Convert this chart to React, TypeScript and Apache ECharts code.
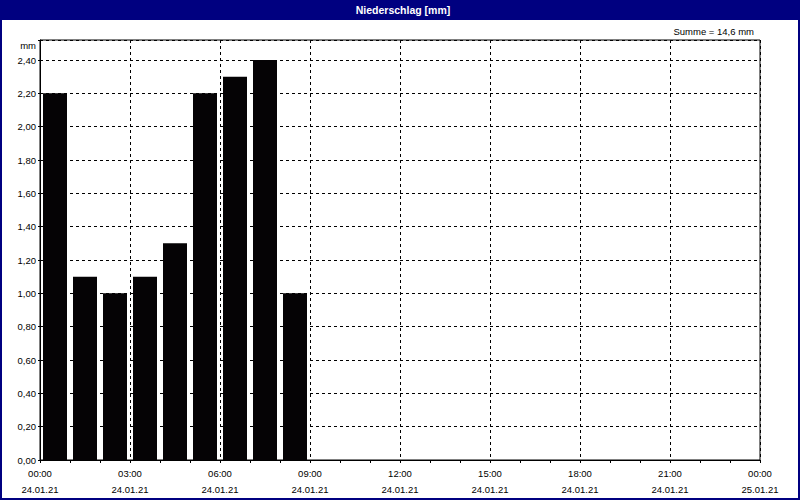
import React, { useEffect, useRef } from "react";
import * as echarts from "echarts";

const hours = [0, 1, 2, 3, 4, 5, 6, 7, 8];
const precip = [2.2, 1.1, 1.0, 1.1, 1.3, 2.2, 2.3, 2.4, 1.0];
const xTickLabels: Record<number, string> = {
  0: "00:00\n24.01.21",
  3: "03:00\n24.01.21",
  6: "06:00\n24.01.21",
  9: "09:00\n24.01.21",
  12: "12:00\n24.01.21",
  15: "15:00\n24.01.21",
  18: "18:00\n24.01.21",
  21: "21:00\n24.01.21",
  24: "00:00\n25.01.21",
};
const titleText = "Niederschlag [mm]";
const unitText = "mm";

const FONT = "Liberation Sans";

export default function App() {
  const ref = useRef<HTMLDivElement>(null);
  useEffect(() => {
    if (!ref.current) return;
    const chart = echarts.init(ref.current, undefined, { renderer: "svg" });
    const sum = precip.reduce((a, b) => a + b, 0);
    const sumText = "Summe = " + sum.toFixed(1).replace(".", ",") + " mm";
    chart.setOption({
      animation: false,
      backgroundColor: "#ffffff",
      textStyle: { fontFamily: FONT },
      grid: {
        left: 40,
        right: 40,
        top: 40,
        bottom: 40,
        show: true,
        borderColor: "#000",
        borderWidth: 1,
        backgroundColor: "transparent",
      },
      xAxis: {
        type: "value",
        min: 0,
        max: 24,
        interval: 3,
        axisLine: { show: true, lineStyle: { color: "#000", width: 1 } },
        axisTick: { show: true, length: 3, lineStyle: { color: "#000" } },
        minorTick: { show: true, splitNumber: 3, length: 3, lineStyle: { color: "#000" } },
        splitLine: { show: true, lineStyle: { color: "#000", type: [3, 3], width: 1 } },
        axisLabel: {
          color: "#000",
          fontSize: 9.5,
          fontFamily: FONT,
          lineHeight: 16,
          margin: 5,
          formatter: (v: number) => xTickLabels[Math.round(v)] ?? "",
        },
      },
      yAxis: {
        type: "value",
        min: 0,
        max: 2.52,
        interval: 0.2,
        axisLine: { show: true, lineStyle: { color: "#000", width: 1 } },
        axisTick: { show: true, length: 2, lineStyle: { color: "#000" } },
        splitLine: { show: true, lineStyle: { color: "#000", type: [3, 3], width: 1 } },
        axisLabel: {
          color: "#000",
          fontSize: 9.5,
          fontFamily: FONT,
          margin: 4,
          formatter: (v: number) => (v > 2.45 ? "" : v.toFixed(2).replace(".", ",")),
        },
      },
      series: [
        {
          type: "bar",
          data: hours.map((h, i) => [h + 0.5, precip[i]]),
          barWidth: 24,
          itemStyle: { color: "#050305" },
        },
      ],
      graphic: [
        {
          type: "rect",
          shape: { x: 0, y: 0, width: 800, height: 20 },
          style: { fill: "#000080" },
          z: 10,
        },
        {
          type: "rect",
          shape: { x: 1, y: 1, width: 798, height: 498 },
          style: { fill: "none", stroke: "#000080", lineWidth: 2 },
          z: 10,
        },
        {
          type: "text",
          x: 403,
          y: 10,
          style: {
            text: titleText,
            fill: "#fff",
            font: `bold 10.5px "${FONT}"`,
            align: "center",
            verticalAlign: "middle",
          },
          z: 11,
        },
        {
          type: "text",
          x: 754,
          y: 31,
          style: {
            text: sumText,
            fill: "#000",
            font: `9.5px "${FONT}"`,
            align: "right",
            verticalAlign: "middle",
          },
          z: 11,
        },
        {
          type: "text",
          x: 36,
          y: 45,
          style: {
            text: unitText,
            fill: "#000",
            font: `9.5px "${FONT}"`,
            align: "right",
            verticalAlign: "middle",
          },
          z: 11,
        },
      ],
    });
    return () => chart.dispose();
  }, []);
  return (
    <div
      ref={ref}
      style={{ position: "absolute", left: 0, top: 0, width: 800, height: 500 }}
    />
  );
}
